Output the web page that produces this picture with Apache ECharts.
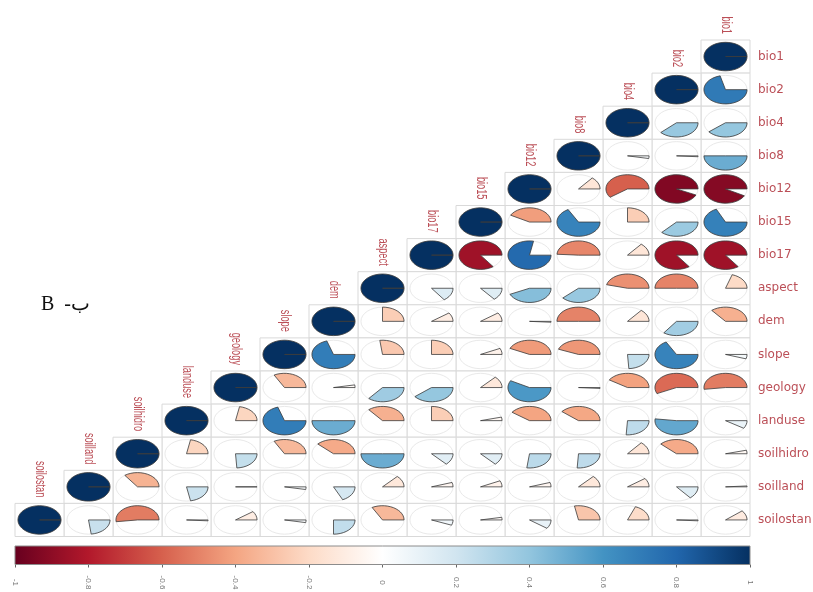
<!DOCTYPE html>
<html>
<head>
<meta charset="utf-8">
<style>
  html, body { margin: 0; padding: 0; background: #fff; }
  #main { width: 813px; height: 592px; }
</style>
<script src="https://cdn.jsdelivr.net/npm/echarts@6/dist/echarts.min.js"></script>
</head>
<body>
<div id="main"></div>
<script>
// variable order, top row first
var names = ['bio1', 'bio2', 'bio4', 'bio8', 'bio12', 'bio15', 'bio17', 'aspect', 'dem', 'slope', 'geology', 'landuse', 'soilhidro', 'soilland', 'soilostan'];

// correlations per column, from the diagonal downwards
var colBio1 = [1, 0.71, 0.39, 0.5, -0.92, 0.68, -0.85, -0.2, -0.36, 0.05, -0.52, 0.09, -0.04, -0.01, -0.11];
var colBio2 = [1, 0.38, 0.01, -0.93, 0.37, -0.85, -0.5, 0.35, 0.67, -0.57, 0.52, -0.38, 0.14, 0.01];
var colBio4 = [1, 0.03, -0.6, -0.25, -0.14, -0.46, -0.14, 0.24, -0.41, 0.26, -0.14, -0.1, -0.19];
var colBio8 = [1, -0.14, 0.67, -0.49, 0.38, -0.5, -0.44, 0.01, -0.39, 0.26, -0.13, -0.28];
var colBio12 = [1, -0.42, 0.78, 0.43, 0.01, -0.43, 0.58, -0.4, 0.27, -0.05, 0.1];
var colBio15 = [1, -0.85, 0.14, -0.1, -0.07, -0.13, -0.04, 0.13, -0.07, -0.03];
var colBio17 = [1, 0.15, -0.1, -0.25, 0.39, -0.25, 0.13, -0.05, 0.06];
var colAspect = [1, -0.25, -0.27, 0.36, -0.36, 0.5, -0.13, -0.33];
var colDem = [1, 0.7, -0.03, 0.5, -0.38, 0.18, 0.25];
var colSlope = [1, -0.33, 0.7, -0.33, 0.03, 0.03];
var colGeology = [1, -0.22, 0.24, 0, -0.1];
var colLanduse = [1, -0.22, 0.22, 0.01];
var colSoilhidro = [1, -0.35, -0.52];
var colSoilland = [1, 0.23];
var colSoilostan = [1];

var columns = [colBio1, colBio2, colBio4, colBio8, colBio12, colBio15, colBio17, colAspect, colDem, colSlope, colGeology, colLanduse, colSoilhidro, colSoilland, colSoilostan];

var palette = ['#67001F', '#B2182B', '#D6604D', '#F4A582', '#FDDBC7', '#FFFFFF', '#D1E5F0', '#92C5DE', '#4393C3', '#2166AC', '#053061'];
var barTicks = [-1, 1];
var xNames = names.slice().reverse();

var cells = [];
columns.forEach(function (col, c) {
  col.forEach(function (r, i) {
    cells.push([names[c], names[c + i], r]);
  });
});

function colorOf(r) {
  return echarts.color.lerp((r + 1) / 2, palette);
}

function renderCell(params, api) {
  var xName = xNames[api.value(0)];
  var yName = names[api.value(1)];
  var r = api.value(2);
  var p = api.coord([xName, yName]);
  var s = api.size([1, 1]);
  var rx = s[0] * 0.44, ry = s[1] * 0.43;
  var kids = [{
    type: 'rect',
    shape: { x: p[0] - s[0] / 2, y: p[1] - s[1] / 2, width: s[0], height: s[1] },
    style: { fill: '#fff', stroke: '#d9d9d9', lineWidth: 1 }
  }, {
    type: 'ellipse',
    shape: { cx: p[0], cy: p[1], rx: rx, ry: ry },
    style: { fill: 'none', stroke: '#e9e9e9', lineWidth: 1 }
  }];
  // wedge runs clockwise for positive r, anticlockwise for negative
  var pts = [[p[0], p[1]]];
  var n = Math.max(2, Math.ceil(Math.abs(r) * 40));
  for (var k = 0; k <= n; k++) {
    var t = 2 * Math.PI * r * k / n;
    pts.push([p[0] + rx * Math.cos(t), p[1] + ry * Math.sin(t)]);
  }
  kids.push({
    type: 'polygon',
    shape: { points: pts },
    style: { fill: colorOf(r), stroke: '#3c3c3c', strokeOpacity: 0.8, lineWidth: 1 }
  });
  if (xName === yName) {
    kids.push({
      type: 'text',
      x: p[0],
      y: p[1] - s[1] / 2 - 6,
      rotation: -Math.PI / 2,
      scaleX: 0.66,
      style: {
        text: xName,
        fill: '#bb4f57',
        font: '14px "Liberation Sans", Arial, sans-serif',
        align: 'right',
        verticalAlign: 'middle'
      }
    });
  }
  return { type: 'group', children: kids };
}

function renderBar(params, api) {
  var a = api.coord([api.value(0), 0]);
  var b = api.coord([api.value(1), 1]);
  var stops = palette.map(function (c, i) {
    return { offset: i / (palette.length - 1), color: c };
  });
  return {
    type: 'rect',
    shape: { x: a[0], y: b[1], width: b[0] - a[0], height: a[1] - b[1] },
    style: {
      fill: new echarts.graphic.LinearGradient(0, 0, 1, 0, stops),
      stroke: '#8c8c8c',
      lineWidth: 1
    }
  };
}

var chart = echarts.init(document.getElementById('main'), null, { renderer: 'canvas' });
chart.setOption({
  animation: false,
  backgroundColor: '#fff',
  grid: [
    { left: 15, top: 40, width: 735, height: 496.5, outerBoundsMode: 'none' },
    { left: 15, top: 546, width: 735, height: 18.5, outerBoundsMode: 'none' }
  ],
  xAxis: [{
    gridIndex: 0,
    type: 'category',
    data: xNames,
    show: false
  }, {
    gridIndex: 1,
    type: 'value',
    min: barTicks[0],
    max: barTicks[1],
    interval: 0.2,
    axisLine: { show: false },
    axisTick: { show: true, length: 3, lineStyle: { color: '#666' } },
    splitLine: { show: false },
    axisLabel: {
      rotate: -90,
      margin: 18,
      align: 'center',
      verticalAlign: 'middle',
      color: '#777',
      fontSize: 8,
      fontFamily: '"Liberation Sans", Arial, sans-serif',
      hideOverlap: false,
      showMinLabel: true,
      showMaxLabel: true
    }
  }],
  yAxis: [{
    gridIndex: 0,
    type: 'category',
    data: names,
    inverse: true,
    position: 'right',
    axisLine: { show: false },
    axisTick: { show: false },
    splitLine: { show: false },
    axisLabel: {
      margin: 8,
      color: '#bb4f57',
      fontSize: 12,
      fontFamily: '"DejaVu Sans", sans-serif',
      interval: 0
    }
  }, {
    gridIndex: 1,
    type: 'value',
    min: 0,
    max: 1,
    show: false
  }],
  graphic: [{
    type: 'text',
    left: 41,
    top: 295,
    style: {
      text: 'B  -ب',
      fill: '#111',
      font: '20px "Liberation Serif", "DejaVu Serif", serif'
    }
  }],
  series: [{
    type: 'custom',
    xAxisIndex: 0,
    yAxisIndex: 0,
    renderItem: renderCell,
    data: cells,
    encode: { x: 0, y: 1 }
  }, {
    type: 'custom',
    xAxisIndex: 1,
    yAxisIndex: 1,
    renderItem: renderBar,
    data: [[barTicks[0], barTicks[1]]],
    encode: { x: [0, 1] }
  }]
});
</script>
</body>
</html>
